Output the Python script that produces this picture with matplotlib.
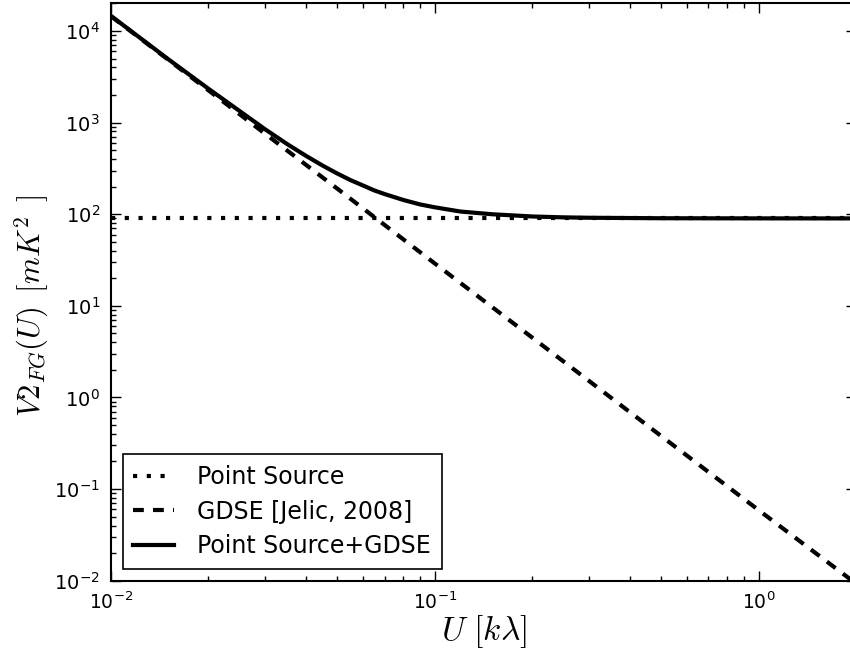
import matplotlib
matplotlib.use("Agg")
import matplotlib.pyplot as plt

# values
u = [0.01, 0.02, 0.03, 0.05, 0.1, 0.2, 0.5, 1.0, 2.0]
point_source = [90, 90, 90, 90, 90, 90, 90, 90, 90]
gdse = [1.45e4, 2.25e3, 7.5e2, 1.9e2, 29, 4.5, 0.38, 0.059, 0.0093]

u_sum = [0.01, 0.015, 0.02, 0.03, 0.035, 0.04, 0.045, 0.05, 0.055, 0.06, 0.065,
         0.07, 0.08, 0.09, 0.1, 0.12, 0.15, 0.2, 0.25, 0.3, 0.5, 1.0, 2.0]
ps_gdse = [1.46e4, 4940, 2340, 840, 583, 434, 340, 278, 235, 206, 182,
           166, 143, 128, 119, 107, 100, 94.5, 92.4, 91.5, 90.4, 90.1, 90.0]

plt.rcParams['mathtext.fontset'] = 'cm'

fig = plt.figure(figsize=(8.5, 6.56), dpi=100)
ax = fig.add_axes([0.1306, 0.1148, 0.8765, 0.880])

ax.plot(u, point_source, color='k', linewidth=3, linestyle=':', dashes=(1, 2.3), label="Point Source")
ax.plot(u, gdse, color='k', linewidth=3, linestyle='--', dashes=(2.6, 2.2), label="GDSE [Jelic, 2008]")
ax.plot(u_sum, ps_gdse, color='k', linewidth=3, linestyle='-', label="Point Source+GDSE")

ax.set_xscale('log')
ax.set_yscale('log')
ax.set_xlim(0.01, 2)
ax.set_ylim(0.01, 2e4)

ax.tick_params(which='both', direction='in', top=True, right=True, width=1)
ax.tick_params(which='major', length=7, pad=8)
ax.tick_params(which='minor', length=3.5)
ax.tick_params(axis='y', labelsize=14)
ax.tick_params(axis='x', labelsize=13.5)
for s in ax.spines.values():
    s.set_linewidth(1.5)

ax.set_xlabel(r"$U\ [k\lambda]$", fontsize=24, labelpad=0)
ax.set_ylabel(r"$V2_{FG}(U)\ \,[mK^2\ \,]$", fontsize=22)
ax.yaxis.set_label_coords(-0.080, 0.476)

leg = ax.legend(loc='lower left', fontsize=17, fancybox=False, framealpha=1,
                edgecolor='k', handlelength=1.7, handletextpad=1.0,
                borderpad=0.45, labelspacing=0.45)
leg.get_frame().set_linewidth(1.2)

fig.savefig("out.png", dpi=100)
